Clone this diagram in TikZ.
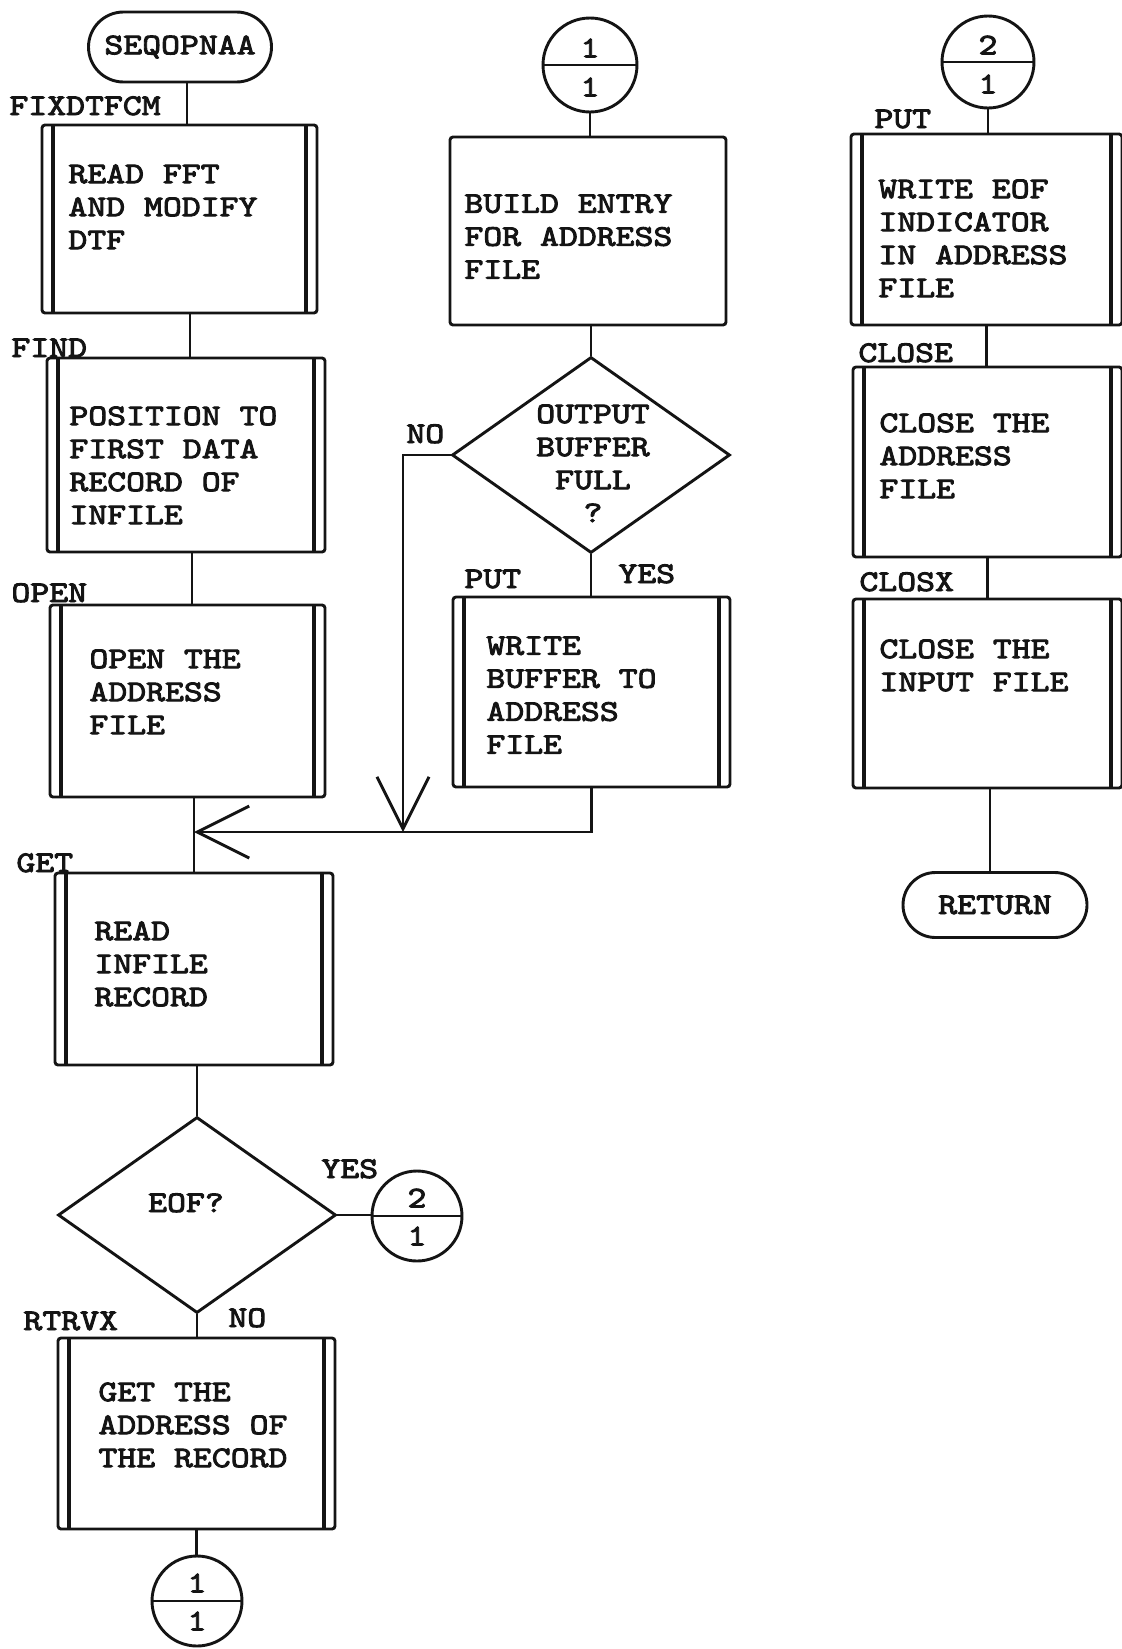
\documentclass[tikz,border=0pt]{standalone}
\usepackage{fontspec}
\newfontfamily\typer{lmmono10-regular.otf}[FakeStretch=1.2,FakeBold=3]
\usetikzlibrary{shapes.geometric,shapes.misc,arrows.meta,calc}
\definecolor{ink}{gray}{0.08}
\begin{document}
\begin{tikzpicture}[x=0.5pt,y=-0.5pt,line width=1.45pt,color=ink,
  tw/.style={font=\typer\fontsize{15}{16.5}\selectfont,text=ink,inner sep=0pt},
  lbl/.style={tw,anchor=base west},
  body/.style={tw,align=left,anchor=north west},
  plainbox/.style args={#1/#2}{draw,rounded corners=1.5pt,minimum width=#1,minimum height=#2,inner sep=0pt},
  procbox/.style args={#1/#2}{plainbox=#1/#2,
    path picture={\draw[sharp corners,line width=1.9pt]
      ([xshift=5.5pt]path picture bounding box.north west) -- ([xshift=5.5pt]path picture bounding box.south west)
      ([xshift=-5.5pt]path picture bounding box.north east) -- ([xshift=-5.5pt]path picture bounding box.south east);}},
  term/.style args={#1/#2}{draw,rounded rectangle,minimum width=#1,minimum height=#2,tw},
  decision/.style args={#1/#2}{draw,diamond,minimum width=#1,minimum height=#2,inner sep=0pt},
  conn/.style={draw,circle,minimum size=#1,inner sep=0pt},
  digit/.style={tw,anchor=center},
  barb/.style={-{Straight Barb[length=26pt,width=26pt]}}]

\fill[white] (0,0) rectangle (1122,1649);
\useasboundingbox (0,0) rectangle (1122,1649);

% ---------- left column ----------
\node[term=91.5pt/35pt] (start) at (180,47) {SEQOPNAA};

\node[procbox=137.5pt/94pt] (fix) at (179.5,219) {};
\node[lbl] (fixl) at (8,115) {FIXDTFCM};
\node[body] (fixt) at (67,163) {READ FFT\\AND MODIFY\\DTF};

\node[procbox=139pt/97pt] (find) at (186,455) {};
\node[lbl] (findl) at (10,357) {FIND};
\node[body] (findt) at (68,405) {POSITION TO\\FIRST DATA\\RECORD OF\\INFILE};

\node[procbox=137.5pt/96pt] (open) at (187.5,701) {};
\node[lbl] (openl) at (10,602) {OPEN};
\node[body] (opent) at (88,648) {OPEN THE\\ADDRESS\\FILE};

\node[procbox=139pt/96pt] (get) at (194,969) {};
\node[lbl] (getl) at (15,872) {GET};
\node[body] (gett) at (93,920) {READ\\INFILE\\RECORD};

\node[decision=139pt/98pt] (eof) at (197,1215) {};
\node[tw,anchor=base] (eoft) at (186,1212) {EOF?};
\node[lbl] (eofyes) at (320,1178) {YES};
\node[lbl] (eofno) at (227,1327) {NO};

\node[conn=45pt] (c3) at (417,1216) {};
\draw (c3.west) -- (c3.east);
\node[digit] (c3a) at ($(c3)+(0,-18)$) {2};
\node[digit] (c3b) at ($(c3)+(0,20)$) {1};

\node[procbox=138.5pt/95.5pt] (rtr) at (196.5,1433.5) {};
\node[lbl] (rtrl) at (22,1330) {RTRVX};
\node[body] (rtrt) at (97,1381) {GET THE\\ADDRESS OF\\THE RECORD};

\node[conn=45pt] (c4) at (197,1601) {};
\draw (c4.west) -- (c4.east);
\node[digit] (c4a) at ($(c4)+(0,-18)$) {1};
\node[digit] (c4b) at ($(c4)+(0,20)$) {1};

% ---------- middle column ----------
\node[conn=47pt] (c1) at (590,65) {};
\draw (c1.west) -- (c1.east);
\node[digit] (c1a) at ($(c1)+(0,-17)$) {1};
\node[digit] (c1b) at ($(c1)+(0,22)$) {1};

\node[plainbox=138pt/94pt] (build) at (588,231) {};
\node[body] (buildt) at (463,193) {BUILD ENTRY\\FOR ADDRESS\\FILE};

\node[decision=139pt/98pt] (dq) at (591,455) {};
\node[tw,align=center,anchor=north] (dqt) at (593,403) {OUTPUT\\BUFFER\\FULL\\?};
\node[lbl] (dqno) at (405,443) {NO};
\node[lbl] (dqyes) at (617,583) {YES};

\node[procbox=138.5pt/95pt] (put) at (591.5,692) {};
\node[lbl] (putl) at (463,588) {PUT};
\node[body] (putt) at (485,635) {WRITE\\BUFFER TO\\ADDRESS\\FILE};

\coordinate (merge) at (194,832);
\coordinate (jn) at (403,832);

% ---------- right column ----------
\node[conn=46pt] (c2) at (988,62) {};
\draw (c2.west) -- (c2.east);
\node[digit] (c2a) at ($(c2)+(0,-17)$) {2};
\node[digit] (c2b) at ($(c2)+(0,22)$) {1};

\node[procbox=135.5pt/95.5pt] (r1) at (986.5,229.5) {};
\node[lbl] (r1l) at (873,128) {PUT};
\node[body] (r1t) at (877,178) {WRITE EOF\\INDICATOR\\IN ADDRESS\\FILE};

\node[procbox=134.5pt/95pt] (r2) at (987.5,462) {};
\node[lbl] (r2l) at (857,362) {CLOSE};
\node[body] (r2t) at (878,412) {CLOSE THE\\ADDRESS\\FILE};

\node[procbox=134.5pt/94.5pt] (r3) at (987.5,693.5) {};
\node[lbl] (r3l) at (858,591) {CLOSX};
\node[body] (r3t) at (878,638) {CLOSE THE\\INPUT FILE};

\node[term=92pt/32.5pt] (ret) at (995,905) {RETURN};

% ---------- connectors ----------
\draw ([xshift=3.5pt]start.south) -- ([xshift=3.75pt]fix.north);
\draw ([xshift=5.25pt]fix.south) -- ([xshift=2pt]find.north);
\draw ([xshift=3pt]find.south) -- ([xshift=2.25pt]open.north);
\draw ([xshift=3.25pt]open.south) -- (get.north);
\draw ([xshift=1.5pt]get.south) -- (eof.north);
\draw (eof.south) -- (eof.south |- rtr.north);
\draw (eof.east) -- (eof.east -| c3.west);
\draw (rtr.south) -- (rtr.south |- c4.north);

\draw (c1.south) -- (c1.south |- build.north);
\draw (dq.north |- build.south) -- (dq.north);
\draw (dq.south) -- (dq.south |- put.north);
\draw[barb] (dq.west) -| (jn);
\draw[barb] (put.south) |- (merge);

\draw (c2.south) -- (c2.south |- r1.north);
\draw (r1.south) -- (r1.south |- r2.north);
\draw (r2.south) -- (r2.south |- r3.north);
\draw ([xshift=1.25pt]r3.south) -- ([xshift=-2.5pt]ret.north);
\end{tikzpicture}
\end{document}
